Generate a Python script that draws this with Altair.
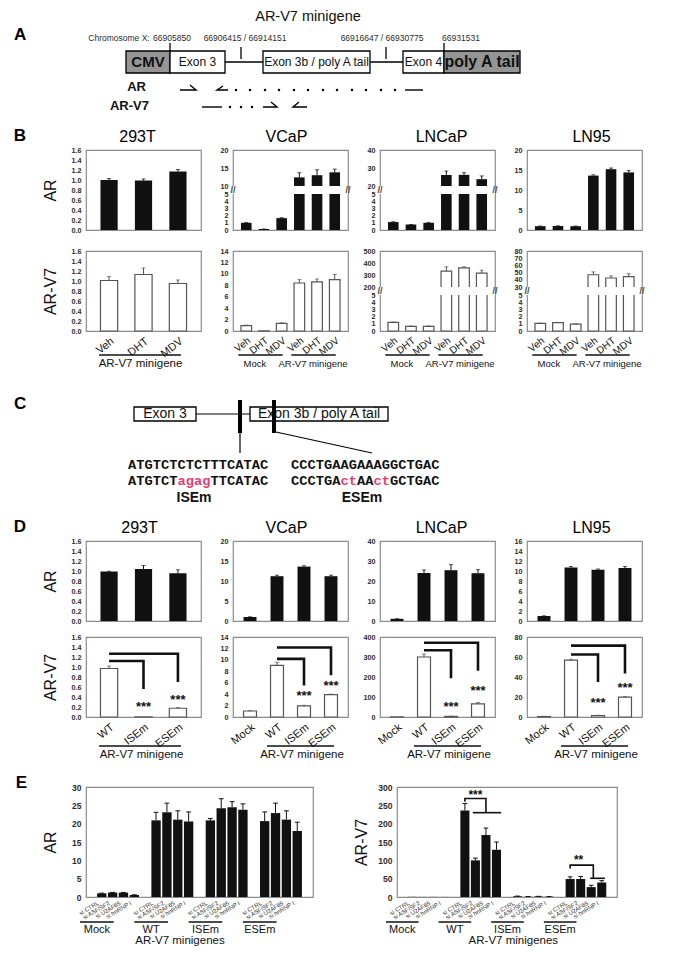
import altair as alt
import pandas as pd

FONT = "Liberation Sans, Arial, Helvetica, sans-serif"
MONO = "Liberation Mono, Courier New, monospace"
INK = "#111111"
FRAME = "#8c8c8c"
LAB = "#2b2b2b"
PINK = "#ec3b70"
BOXGREY = "#959595"
BAR_EDGE = "#555555"

# ---------------- Panel A : AR-V7 minigene schematic (schematic units) ----------------
A_X0, A_W, A_Y0, A_H = 87, 445, 30, 82
A_TITLE = "AR-V7 minigene"
A_BOX_LABEL = ["CMV", "Exon 3", "Exon 3b / poly A tail", "Exon 4", "poly A tail"]
A_BOX_START = [127, 171, 264, 404, 445]
A_BOX_END = [171, 226, 371, 445, 521]
A_BOX_FILL = [BOXGREY, "white", "white", "white", BOXGREY]
A_BOX_FONT = [15, 12, 12, 12, 16]
A_BOX_TOP, A_BOX_BOT = 49, 71
A_COORD_TEXT = ["Chromosome X:", "66905850", "66906415 / 66914151", "66916647 / 66930775", "66931531"]
A_COORD_X = [120, 173, 246, 383, 462]
A_COORD_Y = 36
A_TICK_X = [171, 242, 387, 445]
A_TICK_TOP = [41, 45, 45, 41]
A_TICK_BOT = [49, 57, 57, 49]
A_INTRON_START = [226, 371]
A_INTRON_END = [264, 404]
A_INTRON_Y = 60
A_PRIMER_ID = ["ARf"] * 3 + ["ARr"] * 3 + ["ARe"] * 2 + ["V7a"] * 2 + ["V7f"] * 3 + ["V7r"] * 3
A_PRIMER_X = [181, 197, 191, 229, 218, 224, 406, 424, 203, 223, 264, 278, 272, 308, 294, 300]
A_PRIMER_Y = [88, 88, 83, 88, 88, 84, 88, 88, 105, 105, 105, 105, 100, 105, 105, 100]
A_DOT_X = [237, 251, 266, 280, 295, 309, 324, 338, 353, 367, 382, 396, 231, 242, 253]
A_DOT_Y = [88] * 12 + [105] * 3
A_ROW_LABEL = ["AR", "AR-V7"]
A_ROW_X = [147, 150]
A_ROW_Y = [85, 104]

# ---------------- Panel C : splice-element mutation schematic ----------------
C_Y0, C_H = 383, 120
C_BOX_LABEL = ["Exon 3", "Exon 3b / poly A tail"]
C_BOX_START = [135, 251]
C_BOX_END = [197, 389]
C_BOX_TOP, C_BOX_BOT = 406, 420
C_LINE_X1 = [197, 241, 277]
C_LINE_Y1 = [413, 432, 431]
C_LINE_X2 = [251, 241, 373]
C_LINE_Y2 = [413, 452, 452]
C_MARK_X = [241, 275]
C_MARK_TOP, C_MARK_BOT = 399, 432
C_SEQ = ["ATGTCTCTCTTTCATAC", "ATGTCTagagTTCATAC", "CCCTGAAGAAAGGCTGAC", "CCCTGActAActGCTGAC"]
C_SEQ_X = [129, 129, 292, 292]
C_SEQ_Y = [464, 480, 464, 480]
C_CHAR_W = 8.25
C_MUT_LABEL = ["ISEm", "ESEm"]
C_MUT_X = [195, 363]
C_MUT_Y = 497

# ---------------- Panel B : qPCR, treatments ----------------
MG = "AR-V7 minigene"
B_TREAT = ["Veh", "DHT", "MDV"]
B_AR_293T = [1.00, 0.99, 1.17]
B_AR_293T_ERR = [0.03, 0.03, 0.04]
B_AR_VCAP = [1.0, 0.13, 1.65, 12.4, 13.0, 13.8]
B_AR_VCAP_ERR = [0.04, 0.02, 0.06, 1.3, 1.5, 0.9]
B_AR_LNCAP = [1.1, 0.75, 1.0, 26.1, 26.2, 23.8]
B_AR_LNCAP_ERR = [0.05, 0.03, 0.05, 2.2, 1.2, 1.8]
B_AR_LN95 = [0.95, 1.0, 0.95, 13.6, 15.2, 14.4]
B_AR_LN95_ERR = [0.05, 0.05, 0.05, 0.2, 0.3, 0.5]
B_V7_293T = [1.01, 1.13, 0.95]
B_V7_293T_ERR = [0.08, 0.13, 0.07]
B_V7_VCAP = [0.95, 0.02, 1.35, 8.4, 8.6, 9.0]
B_V7_VCAP_ERR = [0.08, 0.0, 0.08, 0.6, 0.5, 0.9]
B_V7_LNCAP = [1.2, 0.65, 0.65, 333, 360, 315]
B_V7_LNCAP_ERR = [0.05, 0.05, 0.05, 35, 8, 25]
B_V7_LN95 = [1.05, 1.15, 0.95, 47, 42.5, 44.5]
B_V7_LN95_ERR = [0.03, 0.03, 0.03, 4, 3, 4]

# ---------------- Panel D : qPCR, minigene mutants ----------------
D_MUT = ["WT", "ISEm", "ESEm"]
D_AR_293T = [0.99, 1.04, 0.955]
D_AR_293T_ERR = [0.005, 0.07, 0.07]
D_AR_VCAP = [1.0, 11.2, 13.6, 11.2]
D_AR_VCAP_ERR = [0.05, 0.25, 0.2, 0.25]
D_AR_LNCAP = [1.1, 24.0, 25.4, 23.9]
D_AR_LNCAP_ERR = [0.05, 1.5, 2.8, 1.8]
D_AR_LN95 = [1.0, 10.7, 10.25, 10.6]
D_AR_LN95_ERR = [0.03, 0.2, 0.15, 0.3]
D_V7_293T = [0.97, 0.005, 0.175]
D_V7_293T_ERR = [0.05, 0.0, 0.015]
D_V7_VCAP = [1.05, 9.05, 1.95, 3.9]
D_V7_VCAP_ERR = [0.05, 0.5, 0.1, 0.1]
D_V7_LNCAP = [1.0, 300, 3, 66]
D_V7_LNCAP_ERR = [0.0, 15, 1, 6]
D_V7_LN95 = [0.5, 56.9, 1.5, 19.8]
D_V7_LN95_ERR = [0.2, 0.8, 0.2, 0.5]
D_BR_293T = [1.12, 0.56, 1.265, 0.70]
D_ST_293T = [0.2, 0.34]
D_BR_VCAP = [10.17, 5.5, 12.17, 7.3]
D_ST_VCAP = [3.7, 5.5]
D_BR_LNCAP = [334, 194, 371, 231]
D_ST_LNCAP = [50, 130]
D_BR_LN95 = [62.5, 35, 71.4, 43.4]
D_ST_LN95 = [14, 28.6]

# ---------------- Panel E : siRNA knock-downs ----------------
E_GROUPS = ["Mock", "WT", "ISEm", "ESEm"]
E_SIRNA = ["si CTRL", "si ASF/SF2", "si U2AF65", "si hnRNP I"]
E_AR_MOCK = [1.0, 1.2, 1.2, 0.55]
E_AR_WT = [20.9, 23.1, 21.1, 20.6]
E_AR_ISEM = [20.9, 24.2, 24.5, 23.8]
E_AR_ESEM = [20.7, 22.9, 21.1, 18.0]
E_AR_ERR_MOCK = [0.05, 0.05, 0.05, 0.05]
E_AR_ERR_WT = [2.2, 2.5, 2.4, 2.6]
E_AR_ERR_ISEM = [0.5, 2.6, 1.5, 1.6]
E_AR_ERR_ESEM = [2.5, 2.7, 2.4, 2.4]
E_V7_MOCK = [0.5, 0.3, 0.3, 0.2]
E_V7_WT = [236, 100, 169, 129]
E_V7_ISEM = [2, 1, 1.5, 1]
E_V7_ESEM = [49, 49, 27, 39.5]
E_V7_ERR_MOCK = [0, 0, 0, 0]
E_V7_ERR_WT = [19, 6, 19, 21]
E_V7_ERR_ISEM = [0.5, 0.3, 0.3, 0.3]
E_V7_ERR_ESEM = [6, 7, 5, 5]
E_V7_BRACKET_ID = ["w1"] * 4 + ["w2"] * 2 + ["e1"] * 4 + ["e2"] * 2
E_V7_BRACKET_X = [5, 5, 7, 7, 5.75, 8.45, 15, 15, 17.2, 17.2, 16.9, 18.3]
E_V7_BRACKET_Y = [259.6, 268.6, 268.6, 230, 230, 230, 78, 86.8, 86.8, 51, 51, 51]
E_V7_STAR_X = [6.0, 15.8]
E_V7_STAR_Y = [279, 101]
E_V7_STAR_T = ["***", "**"]


# ======================= builders =======================
def schem_scales(x0, w, y0, h):
    xs = alt.Scale(domain=[x0, x0 + w], nice=False, zero=False)
    ys = alt.Scale(domain=[y0, y0 + h], nice=False, zero=False, reverse=True)
    return (lambda f: alt.X(f, type="quantitative", scale=xs, axis=None),
            lambda f: alt.Y(f, type="quantitative", scale=ys, axis=None))


def panel_A():
    X, Y = schem_scales(A_X0, A_W, A_Y0, A_H)
    boxes = pd.DataFrame({"label": A_BOX_LABEL, "x1": A_BOX_START, "x2": A_BOX_END,
                          "fill": A_BOX_FILL, "fs": A_BOX_FONT})
    boxes["y1"] = A_BOX_TOP
    boxes["y2"] = A_BOX_BOT
    boxes["xc"] = (boxes["x1"] + boxes["x2"]) / 2
    boxes["yc"] = (A_BOX_TOP + A_BOX_BOT) / 2
    lines = pd.DataFrame({
        "x1": A_INTRON_START + A_TICK_X,
        "x2": A_INTRON_END + A_TICK_X,
        "y1": [A_INTRON_Y] * 2 + A_TICK_TOP,
        "y2": [A_INTRON_Y] * 2 + A_TICK_BOT,
    })
    coords = pd.DataFrame({"t": A_COORD_TEXT, "x": A_COORD_X, "y": [A_COORD_Y] * len(A_COORD_X)})
    prim = pd.DataFrame({"pid": A_PRIMER_ID, "x": A_PRIMER_X, "y": A_PRIMER_Y,
                         "seq": list(range(len(A_PRIMER_X)))})
    dots = pd.DataFrame({"x": A_DOT_X, "y": A_DOT_Y})
    rows = pd.DataFrame({"t": A_ROW_LABEL, "x": A_ROW_X, "y": A_ROW_Y})
    head = pd.DataFrame({"t": [A_TITLE], "x": [309], "y": [15]})
    letter = pd.DataFrame({"t": ["A"], "x": [15], "y": [33]})
    layers = [
        alt.Chart(lines).mark_rule(color="black", strokeWidth=1.3).encode(
            x=X("x1"), x2="x2:Q", y=Y("y1"), y2="y2:Q"),
        alt.Chart(boxes).mark_rect(stroke="black", strokeWidth=1.3).encode(
            x=X("x1"), x2="x2:Q", y=Y("y1"), y2="y2:Q", fill=alt.Fill("fill:N", scale=None)),
        alt.Chart(boxes).transform_filter("datum.fs >= 15").mark_text(
            fontWeight="bold", color=INK).encode(
            x=X("xc"), y=Y("yc"), text="label:N", size=alt.Size("fs:Q", scale=None)),
        alt.Chart(boxes).transform_filter("datum.fs < 15").mark_text(color=INK).encode(
            x=X("xc"), y=Y("yc"), text="label:N", size=alt.Size("fs:Q", scale=None)),
        alt.Chart(coords).mark_text(fontSize=8.5, color=LAB).encode(x=X("x"), y=Y("y"), text="t:N"),
        alt.Chart(prim).mark_line(color="black", strokeWidth=1.4).encode(
            x=X("x"), y=Y("y"), detail="pid:N", order="seq:Q"),
        alt.Chart(dots).mark_circle(size=6, color="black", opacity=1).encode(x=X("x"), y=Y("y")),
        alt.Chart(rows).mark_text(align="right", fontSize=13, fontWeight="bold", color=INK).encode(
            x=X("x"), y=Y("y"), text="t:N"),
        alt.Chart(head).mark_text(fontSize=14.5, color=INK).encode(x=X("x"), y=Y("y"), text="t:N"),
        alt.Chart(letter).mark_text(align="left", fontSize=17, fontWeight="bold", color="black").encode(
            x=X("x"), y=Y("y"), text="t:N"),
    ]
    return alt.layer(*layers).properties(width=A_W, height=A_H,
                                         view=alt.ViewBackground(stroke="transparent"))


def panel_C():
    X, Y = schem_scales(A_X0, A_W, C_Y0, C_H)
    boxes = pd.DataFrame({"label": C_BOX_LABEL, "x1": C_BOX_START, "x2": C_BOX_END})
    boxes["y1"] = C_BOX_TOP
    boxes["y2"] = C_BOX_BOT
    boxes["xc"] = (boxes["x1"] + boxes["x2"]) / 2
    boxes["yc"] = (C_BOX_TOP + C_BOX_BOT) / 2
    lines = pd.DataFrame({"x1": C_LINE_X1, "y1": C_LINE_Y1, "x2": C_LINE_X2, "y2": C_LINE_Y2})
    marks = pd.DataFrame({"x": C_MARK_X})
    marks["x1"] = marks["x"] - 2
    marks["x2"] = marks["x"] + 2
    marks["y1"] = C_MARK_TOP
    marks["y2"] = C_MARK_BOT
    chars = []
    for s, x0, y0 in zip(C_SEQ, C_SEQ_X, C_SEQ_Y):
        for i, ch in enumerate(s):
            chars.append({"c": ch, "x": x0 + (i + 0.5) * C_CHAR_W, "y": y0,
                          "col": PINK if ch.islower() else INK})
    chars = pd.DataFrame(chars)
    muts = pd.DataFrame({"t": C_MUT_LABEL, "x": C_MUT_X, "y": [C_MUT_Y] * 2})
    letter = pd.DataFrame({"t": ["C"], "x": [15], "y": [403]})
    layers = [
        alt.Chart(lines).mark_rule(color="black", strokeWidth=1.2).encode(
            x=X("x1"), x2="x2:Q", y=Y("y1"), y2="y2:Q"),
        alt.Chart(boxes).mark_rect(stroke="black", strokeWidth=1.3, fill="white").encode(
            x=X("x1"), x2="x2:Q", y=Y("y1"), y2="y2:Q"),
        alt.Chart(boxes).mark_text(fontSize=14, color=INK).encode(x=X("xc"), y=Y("yc"), text="label:N"),
        alt.Chart(marks).mark_rect(color="black").encode(x=X("x1"), x2="x2:Q", y=Y("y1"), y2="y2:Q"),
        alt.Chart(chars).mark_text(font=MONO, fontSize=13.7, fontWeight="bold").encode(
            x=X("x"), y=Y("y"), text="c:N", color=alt.Color("col:N", scale=None)),
        alt.Chart(muts).mark_text(fontSize=14, fontWeight="bold", color=INK).encode(
            x=X("x"), y=Y("y"), text="t:N"),
        alt.Chart(letter).mark_text(align="left", fontSize=17, fontWeight="bold", color="black").encode(
            x=X("x"), y=Y("y"), text="t:N"),
    ]
    return alt.layer(*layers).properties(width=A_W, height=C_H,
                                         view=alt.ViewBackground(stroke="transparent"))


def y_axis(title, ticks, fmt, size=7.2):
    return alt.Axis(title=title, values=ticks, format=fmt, labelOverlap=False, ticks=False,
                    domain=False, grid=False, labelFontSize=size, labelFontWeight="bold",
                    labelColor=LAB, labelPadding=5, minExtent=22, maxExtent=22,
                    titleFontSize=16, titleFontWeight="normal", titleColor=INK, titlePadding=6)


def bar_cell(keys, vals, errs, dark, ydom, yticks, yfmt, pi, po, yrange=None, brk=None,
             title=None, tdx=0, ytitle=None, show_x=False, xfs=11, under=None, uoff=(-10, 3),
             glabels=None, gfs=11.5, ul_dy=24, gl_dy=33, brackets=None, stars=None, w=115, h=80):
    xs = alt.Scale(domain=keys, paddingInner=pi, paddingOuter=po)
    if yrange is not None:
        ys = alt.Scale(domain=ydom, range=yrange, nice=False)
    else:
        ys = alt.Scale(domain=ydom, nice=False)
    if show_x:
        xa = alt.Axis(title=None, labelExpr="split(datum.label, '|')[1]", labelAngle=322,
                      labelAlign="right", labelBaseline="top", labelPadding=4, labelFontSize=xfs,
                      labelColor=INK, ticks=False, domain=False)
    else:
        xa = None
    ya = y_axis(ytitle, yticks, yfmt)

    def X(f):
        return alt.X(f, type="nominal", scale=xs, axis=xa)

    def Y(f):
        return alt.Y(f, type="quantitative", scale=ys, axis=ya)

    d = pd.DataFrame({"key": keys, "val": vals, "err": errs})
    d["top"] = d["val"] + d["err"]
    e = d[d["err"] > 0]
    if dark:
        layers = [alt.Chart(d).mark_bar(fill=INK).encode(x=X("key"), y=Y("val"))]
        ec = INK
    else:
        layers = [alt.Chart(d).mark_bar(fill="white", stroke=BAR_EDGE, strokeWidth=1.2).encode(
            x=X("key"), y=Y("val"))]
        ec = BAR_EDGE
    if brk is not None:
        bd = pd.DataFrame({"lo": [brk[0]], "hi": [brk[1]], "mid": [(brk[0] + brk[1]) / 2]})
        layers.append(alt.Chart(bd).mark_rect(color="white").encode(y=Y("lo"), y2="hi:Q"))
        for xv in (0, w):
            layers.append(alt.Chart(bd).mark_text(text="//", fontSize=9, fontWeight="bold",
                                                  color="#444444").encode(x=alt.value(xv), y=Y("mid")))
    if len(e):
        layers.append(alt.Chart(e).mark_rule(color=ec, strokeWidth=1).encode(
            x=X("key"), y=Y("val"), y2="top:Q"))
        layers.append(alt.Chart(e).mark_tick(color=ec, thickness=1, size=4).encode(
            x=X("key"), y=Y("top")))
    if brackets:
        bdf = pd.DataFrame(brackets, columns=["bid", "key", "y"])
        bdf["seq"] = list(range(len(bdf)))
        layers.append(alt.Chart(bdf).mark_line(color=INK, strokeWidth=2.6).encode(
            x=X("key"), y=Y("y"), detail="bid:N", order="seq:Q"))
    if stars:
        sdf = pd.DataFrame(stars, columns=["key", "y", "t"])
        layers.append(alt.Chart(sdf).mark_text(fontSize=13, fontWeight="bold", color=INK).encode(
            x=X("key"), y=Y("y"), text="t:N"))
    if under:
        udf = pd.DataFrame(under, columns=["k1", "k2"])
        layers.append(alt.Chart(udf).mark_rule(color=INK, strokeWidth=1.5, xOffset=uoff[0],
                                                x2Offset=uoff[1]).encode(
            x=X("k1"), x2="k2:N", y=alt.value(h + ul_dy)))
    if glabels:
        for k, t, off in glabels:
            gdf = pd.DataFrame({"k": [k], "t": [t]})
            layers.append(alt.Chart(gdf).mark_text(fontSize=gfs, color=INK, xOffset=off).encode(
                x=X("k"), y=alt.value(h + gl_dy), text="t:N"))
    ch = alt.layer(*layers).properties(width=w, height=h)
    if title:
        ch = ch.properties(title=alt.TitleParams(text=title, fontSize=16, fontWeight="normal",
                                                 color="black", offset=1, frame="group", dx=tdx))
    return ch


def e_cell(vals, errs, ydom, yticks, ytitle, w, h=110, brackets=None, stars=None,
           ul=(-2.0, 1.1), lc=-0.45, title_x=7.2):
    xs = alt.Scale(domain=[-1.45, 19.45], nice=False, zero=False)
    ys = alt.Scale(domain=ydom, nice=False)
    ya = y_axis(ytitle, yticks, "d", size=8.5)

    def X(f):
        return alt.X(f, type="quantitative", scale=xs, axis=None)

    def Y(f):
        return alt.Y(f, type="quantitative", scale=ys, axis=ya)

    rows = []
    for g, grp in enumerate(E_GROUPS):
        for i, si in enumerate(E_SIRNA):
            rows.append({"grp": grp, "si": si, "val": vals[g][i], "err": errs[g][i], "pos": g * 5 + i})
    d = pd.DataFrame(rows)
    d["x1"] = d["pos"] - 0.43
    d["x2"] = d["pos"] + 0.43
    d["c1"] = d["pos"] - 0.22
    d["c2"] = d["pos"] + 0.22
    d["top"] = d["val"] + d["err"]
    d["zero"] = 0.0
    e = d[d["err"] > 0]
    g = pd.DataFrame({"grp": E_GROUPS, "gi": list(range(4))})
    g["u1"] = g["gi"] * 5 + ul[0]
    g["u2"] = g["gi"] * 5 + ul[1]
    g["lc"] = g["gi"] * 5 + lc
    ttl = pd.DataFrame({"t": ["AR-V7 minigenes"], "x": [title_x]})
    layers = [
        alt.Chart(d).mark_rect(fill=INK).encode(x=X("x1"), x2="x2:Q", y=Y("val"), y2="zero:Q"),
        alt.Chart(e).mark_rule(color=INK, strokeWidth=1).encode(x=X("pos"), y=Y("val"), y2="top:Q"),
        alt.Chart(e).mark_rule(color=INK, strokeWidth=1).encode(x=X("c1"), x2="c2:Q", y=Y("top")),
        alt.Chart(d).mark_text(angle=329, align="right", baseline="top", fontSize=6, color=LAB,
                               xOffset=-5).encode(x=X("pos"), y=alt.value(h + 3), text="si:N"),
        alt.Chart(g).mark_rule(color=INK, strokeWidth=1.5).encode(
            x=X("u1"), x2="u2:Q", y=alt.value(h + 25)),
        alt.Chart(g).mark_text(fontSize=11, color=INK).encode(
            x=X("lc"), y=alt.value(h + 33), text="grp:N"),
        alt.Chart(ttl).mark_text(fontSize=11.5, color=INK).encode(
            x=X("x"), y=alt.value(h + 44), text="t:N"),
    ]
    if brackets is not None:
        layers.append(alt.Chart(brackets).mark_line(color=INK, strokeWidth=1.6).encode(
            x=X("x"), y=Y("y"), detail="bid:N", order="seq:Q"))
    if stars is not None:
        layers.append(alt.Chart(stars).mark_text(fontSize=12, fontWeight="bold", color=INK).encode(
            x=X("x"), y=Y("y"), text="t:N"))
    return alt.layer(*layers).properties(width=w, height=h)


def letter(t, dy=0):
    return alt.TitleParams(text=t, orient="left", anchor="end", angle=0, align="right",
                           baseline="top", fontSize=17, fontWeight="bold", color="black",
                           offset=3, dy=dy)


# ======================= assemble =======================
K3 = [f"{MG}|{t}" for t in B_TREAT]
K6 = [f"Mock|{t}" for t in B_TREAT] + K3
UND6 = [(K6[0], K6[2]), (K6[3], K6[5])]
GL6 = [(K6[1], "Mock", -9), (K6[4], MG, -4)]
T16 = [0, 0.2, 0.4, 0.6, 0.8, 1.0, 1.2, 1.4, 1.6]
SIX = dict(show_x=True, xfs=10, under=UND6, uoff=(-8, 1), glabels=GL6, gfs=9.5)
BRK_RANGE = [80, 44, 36, 0]

B1 = [
    bar_cell(K3, B_AR_293T, B_AR_293T_ERR, True, [0, 1.6], T16, ".1f", 0.5, 0.42,
             title="293T", tdx=-6, ytitle="AR"),
    bar_cell(K6, B_AR_VCAP, B_AR_VCAP_ERR, True, [0, 5, 10, 20], [0, 1, 2, 3, 4, 5, 10, 15, 20], "d",
             0.4, 0.45, yrange=BRK_RANGE, brk=(5, 10), title="VCaP", tdx=-4),
    bar_cell(K6, B_AR_LNCAP, B_AR_LNCAP_ERR, True, [0, 5, 20, 40], [0, 1, 2, 3, 4, 5, 20, 30, 40], "d",
             0.4, 0.45, yrange=BRK_RANGE, brk=(5, 20), title="LNCaP", tdx=4),
    bar_cell(K6, B_AR_LN95, B_AR_LN95_ERR, True, [0, 20], [0, 5, 10, 15, 20], "d", 0.4, 0.45,
             title="LN95", tdx=7),
]
B2 = [
    bar_cell(K3, B_V7_293T, B_V7_293T_ERR, False, [0, 1.6], T16, ".1f", 0.5, 0.42, ytitle="AR-V7",
             show_x=True, under=[(K3[0], K3[2])], glabels=[(K3[1], MG, -3)]),
    bar_cell(K6, B_V7_VCAP, B_V7_VCAP_ERR, False, [0, 14], [0, 2, 4, 6, 8, 10, 12, 14], "d", 0.4, 0.45,
             **SIX),
    bar_cell(K6, B_V7_LNCAP, B_V7_LNCAP_ERR, False, [0, 5, 200, 500],
             [0, 1, 2, 3, 4, 5, 200, 300, 400, 500], "d", 0.4, 0.45, yrange=BRK_RANGE,
             brk=(5, 200), **SIX),
    bar_cell(K6, B_V7_LN95, B_V7_LN95_ERR, False, [0, 5, 30, 80],
             [0, 1, 2, 3, 4, 5, 30, 40, 50, 60, 70, 80], "d", 0.4, 0.45, yrange=BRK_RANGE,
             brk=(5, 30), **SIX),
]

KD3 = [f"{MG}|{t}" for t in D_MUT]
KD4 = ["|Mock"] + KD3


def br(vals):
    return [("a", KD3[0], vals[0]), ("a", KD3[1], vals[0]), ("a", KD3[1], vals[1]),
            ("b", KD3[0], vals[2]), ("b", KD3[2], vals[2]), ("b", KD3[2], vals[3])]


def st(vals):
    return [(KD3[1], vals[0], "***"), (KD3[2], vals[1], "***")]


DB = dict(show_x=True, under=[(KD3[0], KD3[2])], glabels=[(KD3[1], MG, -2)], ul_dy=29, gl_dy=38)

D1 = [
    bar_cell(KD3, D_AR_293T, D_AR_293T_ERR, True, [0, 1.6], T16, ".1f", 0.5, 0.42,
             title="293T", tdx=-4, ytitle="AR"),
    bar_cell(KD4, D_AR_VCAP, D_AR_VCAP_ERR, True, [0, 20], [0, 5, 10, 15, 20], "d", 0.52, 0.39,
             title="VCaP", tdx=-4),
    bar_cell(KD4, D_AR_LNCAP, D_AR_LNCAP_ERR, True, [0, 40], [0, 10, 20, 30, 40], "d", 0.52, 0.39,
             title="LNCaP", tdx=4),
    bar_cell(KD4, D_AR_LN95, D_AR_LN95_ERR, True, [0, 16], [0, 2, 4, 6, 8, 10, 12, 14, 16], "d",
             0.52, 0.39, title="LN95", tdx=7),
]
D2 = [
    bar_cell(KD3, D_V7_293T, D_V7_293T_ERR, False, [0, 1.6], T16, ".1f", 0.5, 0.42, ytitle="AR-V7",
             brackets=br(D_BR_293T), stars=st(D_ST_293T), **DB),
    bar_cell(KD4, D_V7_VCAP, D_V7_VCAP_ERR, False, [0, 14], [0, 2, 4, 6, 8, 10, 12, 14], "d", 0.52, 0.39,
             brackets=br(D_BR_VCAP), stars=st(D_ST_VCAP), **DB),
    bar_cell(KD4, D_V7_LNCAP, D_V7_LNCAP_ERR, False, [0, 400], [0, 100, 200, 300, 400], "d", 0.52, 0.39,
             brackets=br(D_BR_LNCAP), stars=st(D_ST_LNCAP), **DB),
    bar_cell(KD4, D_V7_LN95, D_V7_LN95_ERR, False, [0, 80], [0, 20, 40, 60, 80], "d", 0.52, 0.39,
             brackets=br(D_BR_LN95), stars=st(D_ST_LN95), **DB),
]

e_br = pd.DataFrame({"bid": E_V7_BRACKET_ID, "x": E_V7_BRACKET_X, "y": E_V7_BRACKET_Y,
                     "seq": list(range(len(E_V7_BRACKET_X)))})
e_st = pd.DataFrame({"x": E_V7_STAR_X, "y": E_V7_STAR_Y, "t": E_V7_STAR_T})
E_left = e_cell([E_AR_MOCK, E_AR_WT, E_AR_ISEM, E_AR_ESEM],
                [E_AR_ERR_MOCK, E_AR_ERR_WT, E_AR_ERR_ISEM, E_AR_ERR_ESEM],
                [0, 30], [0, 5, 10, 15, 20, 25, 30], "AR", 227,
                ul=(-2.0, 1.1), lc=-0.45, title_x=7.2)
E_right = e_cell([E_V7_MOCK, E_V7_WT, E_V7_ISEM, E_V7_ESEM],
                 [E_V7_ERR_MOCK, E_V7_ERR_WT, E_V7_ERR_ISEM, E_V7_ERR_ESEM],
                 [0, 300], [0, 50, 100, 150, 200, 250, 300], "AR-V7", 220, brackets=e_br, stars=e_st,
                 ul=(-2.5, 0.6), lc=-0.95, title_x=9.6)

B_sec = alt.vconcat(alt.hconcat(*B1, spacing=32, bounds="flush"),
                    alt.hconcat(*B2, spacing=32, bounds="flush"), spacing=12, title=letter("B"))
D_sec = alt.vconcat(alt.hconcat(*D1, spacing=32, bounds="flush"),
                    alt.hconcat(*D2, spacing=32, bounds="flush"), spacing=7, title=letter("D"))
E_sec = alt.hconcat(E_left, E_right, spacing=84, bounds="flush", title=letter("E", dy=-7))

chart = alt.vconcat(panel_A(), B_sec, panel_C(), D_sec, E_sec, spacing=12).properties(
    padding={"left": 5, "top": 0, "right": 0, "bottom": 0}
).configure_view(stroke=FRAME, strokeWidth=1.2).configure_axis(
    labelFont=FONT, titleFont=FONT
).configure_text(font=FONT).configure_title(font=FONT)

chart.save("out.html", embed_options={"renderer": "svg", "actions": False})
